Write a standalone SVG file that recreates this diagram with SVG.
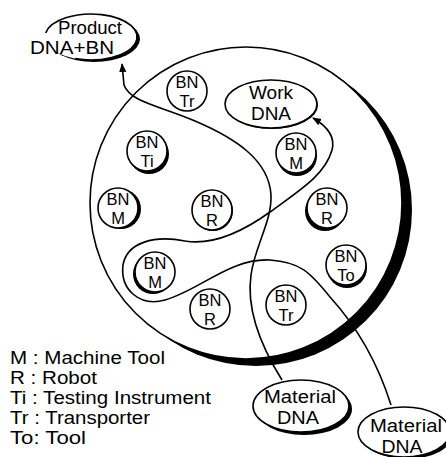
<svg xmlns="http://www.w3.org/2000/svg" width="446" height="457" viewBox="0 0 446 457">
<style>
.ln{fill:none;stroke:#000;stroke-width:1.6}
.nd{fill:#fff;stroke:#000;stroke-width:1.6}
.bg{fill:#fff;stroke:none}
.sh{fill:#000}
text{font-family:"Liberation Sans",Arial,Helvetica,sans-serif;fill:#000}
.t{font-size:16.5px;text-anchor:middle}
.b{font-size:17.5px;text-anchor:middle}
.lg{font-size:17.5px}
</style>
<defs>
<marker id="ah" viewBox="0 0 10 10" refX="9" refY="5" markerWidth="9" markerHeight="9" markerUnits="userSpaceOnUse" orient="auto">
<path d="M0,1 L10,5 L0,9 Z" fill="#000"/>
</marker>
</defs>
<rect width="446" height="457" fill="#fff"/>
<g id="cell">
<circle class="sh" cx="256" cy="210" r="156"/>
<circle class="nd" cx="246" cy="203" r="156"/>
</g>
<g id="connectors">
<path class="ln" marker-end="url(#ah)" d="M282,380 C262,348 246,310 251,275 C255,245 272,222 271,195 C269,160 235,138 195,121 C160,106 130,102 124,85 L122,64"/>
<path class="ln" marker-end="url(#ah)" d="M391,405 C380,370 360,330 330,297 C310,272 300,262 270,260 C230,258 200,290 165,300 C140,307 120,290 123,265 C127,242 155,235 185,241 C215,246 245,230 270,212 C300,190 325,175 332,150 C336,135 325,125 313,118"/>
</g>
<g id="product">
<ellipse class="sh" cx="94" cy="39" rx="46" ry="23"/>
<ellipse class="bg" cx="91" cy="37" rx="46" ry="23"/>
<path class="ln" d="M45.7,33 A46,23 0 1 1 75.3,58.6"/>
<text class="b" x="90" y="34" textLength="64" lengthAdjust="spacingAndGlyphs">Product</text>
<text class="b" x="72" y="54" textLength="84" lengthAdjust="spacingAndGlyphs">DNA+BN</text>
</g>
<g id="work">
<ellipse class="sh" cx="272" cy="105" rx="46" ry="24"/>
<ellipse class="nd" cx="271" cy="104" rx="46" ry="24"/>
<text class="b" x="271" y="99" textLength="44" lengthAdjust="spacingAndGlyphs">Work</text>
<text class="b" x="271" y="119.5" textLength="40" lengthAdjust="spacingAndGlyphs">DNA</text>
</g>
<g id="material1">
<ellipse class="sh" cx="304" cy="409" rx="48" ry="26"/>
<ellipse class="nd" cx="301" cy="406" rx="48" ry="26"/>
<text class="b" x="300" y="403" textLength="72" lengthAdjust="spacingAndGlyphs">Material</text>
<text class="b" x="298" y="424" textLength="42" lengthAdjust="spacingAndGlyphs">DNA</text>
</g>
<g id="material2">
<ellipse class="sh" cx="407" cy="434" rx="46" ry="25"/>
<ellipse class="nd" cx="404" cy="432" rx="46" ry="25"/>
<text class="b" x="406" y="432" textLength="72" lengthAdjust="spacingAndGlyphs">Material</text>
<text class="b" x="402" y="452.5" textLength="41" lengthAdjust="spacingAndGlyphs">DNA</text>
</g>
<g id="bn-tr1">
<circle class="nd" cx="187" cy="91" r="20"/>
<text class="t" x="187" y="88">BN</text><text class="t" x="187" y="107">Tr</text>
</g>
<g id="bn-ti">
<circle class="sh" cx="149" cy="154" r="20"/>
<circle class="nd" cx="147" cy="151" r="20"/>
<text class="t" x="147" y="148">BN</text><text class="t" x="147" y="167">Ti</text>
</g>
<g id="bn-m1">
<circle class="sh" cx="121" cy="209" r="20"/>
<circle class="nd" cx="118" cy="208" r="20"/>
<text class="t" x="118" y="205">BN</text><text class="t" x="118" y="224">M</text>
</g>
<g id="bn-r1">
<circle class="sh" cx="213" cy="211" r="20"/>
<circle class="nd" cx="212" cy="210" r="20"/>
<text class="t" x="212" y="207">BN</text><text class="t" x="212" y="226">R</text>
</g>
<g id="bn-m2">
<circle class="sh" cx="297" cy="156" r="20"/>
<circle class="nd" cx="296" cy="153" r="20"/>
<text class="t" x="296" y="150">BN</text><text class="t" x="296" y="169">M</text>
</g>
<g id="bn-r2">
<circle class="sh" cx="325" cy="211" r="20"/>
<circle class="nd" cx="327" cy="208" r="20"/>
<text class="t" x="327" y="205">BN</text><text class="t" x="327" y="224">R</text>
</g>
<g id="bn-to">
<circle class="sh" cx="347" cy="268" r="20"/>
<circle class="nd" cx="346" cy="265" r="20"/>
<text class="t" x="346" y="262">BN</text><text class="t" x="346" y="281">To</text>
</g>
<g id="bn-tr2">
<circle class="nd" cx="286" cy="305" r="20"/>
<text class="t" x="286" y="302">BN</text><text class="t" x="286" y="321">Tr</text>
</g>
<g id="bn-m3">
<circle class="sh" cx="153" cy="274" r="20"/>
<circle class="nd" cx="155" cy="272" r="20"/>
<text class="t" x="155" y="269">BN</text><text class="t" x="155" y="288">M</text>
</g>
<g id="bn-r3">
<circle class="nd" cx="210" cy="309" r="20"/>
<text class="t" x="210" y="306">BN</text><text class="t" x="210" y="325">R</text>
</g>
<g id="legend">
<text class="lg" x="10" y="364" textLength="155" lengthAdjust="spacingAndGlyphs">M : Machine Tool</text>
<text class="lg" x="10" y="384" textLength="87" lengthAdjust="spacingAndGlyphs">R : Robot</text>
<text class="lg" x="10" y="404" textLength="201" lengthAdjust="spacingAndGlyphs">Ti : Testing Instrument</text>
<text class="lg" x="10" y="424" textLength="140" lengthAdjust="spacingAndGlyphs">Tr : Transporter</text>
<text class="lg" x="10" y="444" textLength="76" lengthAdjust="spacingAndGlyphs">To: Tool</text>
</g>
</svg>
